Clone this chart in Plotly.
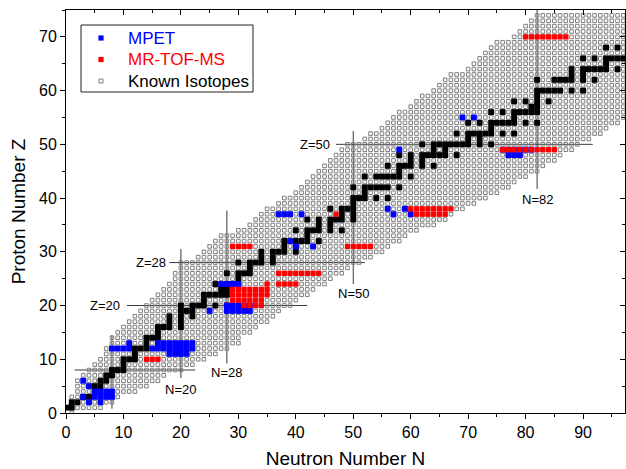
import plotly.graph_objects as go

# ---------------- data ----------------
# Known isotopes: for each proton number Z, lightest and heaviest known neutron number N
Z_ROWS = list(range(0, 75))
N_MIN = [1, 0, 1, 1, 2, 2, 2, 3, 4, 5,
         6, 7, 7, 8, 8, 9, 10, 11, 12, 13,
         14, 15, 16, 17, 18, 19, 19, 20, 20, 23,
         24, 25, 26, 27, 30, 32, 33, 34, 35, 37,
         38, 40, 41, 42, 43, 44, 45, 46, 47, 48,
         49, 52, 53, 55, 56, 57, 58, 60, 61, 62,
         64, 65, 66, 67, 70, 71, 72, 73, 74, 75,
         78, 79, 80, 81, 82]
N_MAX = [1, 6, 8, 9, 12, 14, 16, 17, 20, 22,
         24, 26, 28, 30, 30, 32, 33, 35, 36, 37,
         39, 40, 42, 43, 45, 46, 48, 49, 51, 53,
         55, 56, 58, 59, 61, 64, 66, 67, 69, 71,
         73, 75, 77, 78, 80, 82, 83, 85, 86, 88,
         89, 91, 93, 94, 96, 98, 99, 100, 101, 102,
         103, 104, 105, 106, 107, 108, 109, 110, 111, 112,
         113, 114, 116, 117, 118]

# Stable isotopes (Z, list of N)
STABLE = [
    (1, [0, 1]), (2, [1, 2]), (3, [3, 4]), (4, [5]), (5, [5, 6]), (6, [6, 7]),
    (7, [7, 8]), (8, [8, 9, 10]), (9, [10]), (10, [10, 11, 12]), (11, [12]),
    (12, [12, 13, 14]), (13, [14]), (14, [14, 15, 16]), (15, [16]),
    (16, [16, 17, 18, 20]), (17, [18, 20]), (18, [18, 20, 22]), (19, [20, 21, 22]),
    (20, [20, 22, 23, 24, 26, 28]), (21, [24]), (22, [24, 25, 26, 27, 28]),
    (23, [27, 28]), (24, [26, 28, 29, 30]), (25, [30]), (26, [28, 30, 31, 32]),
    (27, [32]), (28, [30, 32, 33, 34, 36]), (29, [34, 36]), (30, [34, 36, 37, 38, 40]),
    (31, [38, 40]), (32, [38, 40, 41, 42, 44]), (33, [42]), (34, [40, 42, 43, 44, 46, 48]),
    (35, [44, 46]), (36, [42, 44, 46, 47, 48, 50]), (37, [48, 50]), (38, [46, 48, 49, 50]),
    (39, [50]), (40, [50, 51, 52, 54, 56]), (41, [52]), (42, [50, 52, 53, 54, 55, 56, 58]),
    (44, [52, 54, 55, 56, 57, 58, 60]), (45, [58]), (46, [56, 58, 59, 60, 62, 64]),
    (47, [60, 62]), (48, [58, 60, 62, 63, 64, 65, 66, 68]), (49, [64, 66]),
    (50, [62, 64, 65, 66, 67, 68, 69, 70, 72, 74]), (51, [70, 72]),
    (52, [68, 70, 71, 72, 73, 74, 76, 78]), (53, [74]),
    (54, [70, 72, 74, 75, 76, 77, 78, 80, 82]), (55, [78]),
    (56, [74, 76, 78, 79, 80, 81, 82]), (57, [81, 82]), (58, [78, 80, 82, 84]),
    (59, [82]), (60, [82, 83, 84, 85, 86, 88, 90]), (62, [82, 85, 86, 87, 88, 90, 92]),
    (63, [88, 90]), (64, [88, 90, 91, 92, 93, 94, 96]), (65, [94]),
    (66, [90, 92, 94, 95, 96, 97, 98]), (67, [98]), (68, [94, 96, 98, 99, 100, 102]),
    (69, [100]), (70, [98, 100, 101, 102, 103, 104, 106]),
]

# MPET measurements (Z, list of N)
MPET = [
    (2, [4, 6]), (3, [3, 5, 6, 7, 8]), (4, [5, 6, 7, 8]), (5, [4]), (6, [3]),
    (11, [18, 19, 20, 21]), (12, [8, 9, 10, 11, 15, 16, 17, 18, 19, 20, 21, 22]),
    (13, [11, 16, 17, 18, 19, 20, 21, 22]),
    (19, [25, 28, 29, 30, 31, 32]), (20, [28, 29, 30, 31, 32]), (24, [27, 28, 29, 30]),
    (31, [40, 43]), (32, [39]), (37, [37, 38, 39, 41, 57, 60]), (38, [56, 59]),
    (48, [77, 78, 79]), (49, [58, 76, 77, 78, 79, 80, 81]), (55, [69, 71]),
]

# MR-TOF-MS measurements (Z, list of N)
MRTOF = [
    (10, [14, 15, 16]), (20, [31, 32, 33, 34]), (21, [29, 30, 31, 32, 33, 34]),
    (22, [29, 30, 31, 32, 33, 34, 35]), (23, [29, 30, 31, 32, 33, 34, 35]), (24, [35, 37, 38, 39, 40]),
    (26, [37, 38, 39, 40, 41, 42, 43, 44]), (31, [29, 30, 31, 32, 49, 50, 51, 52, 53]),
    (37, [47, 61, 62, 63, 64, 65, 66]), (38, [60, 61, 62, 63, 64, 65, 66, 67]),
    (49, [76, 77, 78, 79, 80, 81, 82, 83, 84, 85]), (70, [80, 81, 82, 83, 84, 85, 86, 87]),
]

# Magic-number guide lines: (value, start, end)
Z_LINES = [(8, 1.5, 22.5), (20, 10.6, 42.0), (28, 18.0, 52.0), (50, 47.0, 91.7)]
N_LINES = [(8, 0.8, 14.5), (20, 6.5, 30.5), (28, 9.2, 37.7), (50, 24.0, 52.5), (82, 41.7, 75.0)]
# Labels: (text, N, Z, anchor)
LABELS = [("Z=20", 10.0, 20.0, "right"), ("Z=28", 18.0, 28.0, "right"), ("Z=50", 46.5, 50.0, "right"),
          ("N=20", 20.0, 4.3, "center"), ("N=28", 28.0, 7.6, "center"),
          ("N=50", 50.0, 22.3, "center"), ("N=82", 82.0, 39.7, "center")]

# Legend entries: (label, text colour, marker colour, hollow)
LEGEND = [("MPET", "#0000ff", "#0000ff", False),
          ("MR-TOF-MS", "#ff0000", "#ff0000", False),
          ("Known Isotopes", "#000000", "#7f7f7f", True)]

X_RANGE = [0, 97.3]
Y_RANGE = [0, 75]

FONT = "Liberation Sans, Arial, sans-serif"


def expand(pairs):
    xs, ys = [], []
    for z, ns in pairs:
        for n in ns:
            xs.append(n)
            ys.append(z)
    return xs, ys


gx, gy = [], []
for z, lo, hi in zip(Z_ROWS, N_MIN, N_MAX):
    for n in range(lo, hi + 1):
        gx.append(n)
        gy.append(z)

sx, sy = expand(STABLE)
bx, by = expand(MPET)
rx, ry = expand(MRTOF)

fig = go.Figure()
fig.add_trace(go.Scatter(x=gx, y=gy, mode="markers", name="Known Isotopes", showlegend=False,
                         marker=dict(symbol="square-open", size=3.6, color="#7f7f7f",
                                     line=dict(width=1, color="#7f7f7f"))))
fig.add_trace(go.Scatter(x=sx, y=sy, mode="markers", showlegend=False, name="Stable",
                         marker=dict(symbol="square", size=5.9, color="black", line=dict(width=0))))
fig.add_trace(go.Scatter(x=bx, y=by, mode="markers", name="MPET", showlegend=False,
                         marker=dict(symbol="square", size=5.9, color="#0000ff", line=dict(width=0))))
fig.add_trace(go.Scatter(x=rx, y=ry, mode="markers", name="MR-TOF-MS", showlegend=False,
                         marker=dict(symbol="square", size=5.3, color="#ff0000", line=dict(width=0))))

shapes = []
for z, a, b in Z_LINES:
    shapes.append(dict(type="line", x0=a, x1=b, y0=z, y1=z, xref="x", yref="y",
                       line=dict(color="#3a3a3a", width=1), layer="below"))
for n, a, b in N_LINES:
    shapes.append(dict(type="line", x0=n, x1=n, y0=a, y1=b, xref="x", yref="y",
                       line=dict(color="#3a3a3a", width=1), layer="below"))

annotations = []
for text, n, z, anc in LABELS:
    annotations.append(dict(text=text, x=n, y=z, xref="x", yref="y", showarrow=False,
                            xanchor=anc, yanchor="middle",
                            font=dict(size=13, color="black", family=FONT),
                            xshift=-1 if anc == "right" else 0))

# ---- legend box (drawn manually for exact spacing) ----
PLOT_L, PLOT_T, PLOT_W, PLOT_H = 66, 10, 559, 403


def px_to_paper(px, py):
    return (px - PLOT_L) / PLOT_W, 1 - (py - PLOT_T) / PLOT_H


bx0, by0 = px_to_paper(81, 25)
bx1, by1 = px_to_paper(253, 92)
shapes.append(dict(type="rect", xref="paper", yref="paper", x0=bx0, x1=bx1, y0=by1, y1=by0,
                   fillcolor="white", line=dict(color="#222222", width=1), layer="above"))
for i, (label, tcol, mcol, hollow) in enumerate(LEGEND):
    cy = 38 + i * 21.5
    mx, my = px_to_paper(101, cy)
    half = 2 if hollow else 2.6
    shapes.append(dict(type="rect", xref="paper", yref="paper", xsizemode="pixel", ysizemode="pixel",
                       xanchor=mx, yanchor=my, x0=-half, x1=half, y0=-half, y1=half,
                       fillcolor="white" if hollow else mcol,
                       line=dict(color=mcol, width=1 if hollow else 0), layer="above"))
    tx, ty = px_to_paper(126, cy)
    annotations.append(dict(text=label, x=tx, y=ty, xref="paper", yref="paper", showarrow=False,
                            xanchor="left", yanchor="middle",
                            font=dict(size=17, color=tcol, family=FONT)))

axis_font = dict(family=FONT, size=16, color="black")
fig.update_layout(
    width=626, height=469,
    margin=dict(l=66, r=1, t=10, b=56),
    paper_bgcolor="white", plot_bgcolor="white",
    shapes=shapes, annotations=annotations,
    font=dict(family=FONT, color="black"),
    showlegend=False,
    xaxis=dict(range=X_RANGE, dtick=10, tick0=0, ticks="outside", ticklen=5, tickwidth=1,
               tickcolor="black", showline=True, linecolor="black", linewidth=1, mirror=True,
               showgrid=False, zeroline=False, tickfont=axis_font,
               minor=dict(dtick=5, tick0=0, ticks="outside", ticklen=3, tickcolor="black"),
               title=dict(text="Neutron Number N", font=dict(size=19, family=FONT), standoff=12)),
    yaxis=dict(range=Y_RANGE, dtick=10, tick0=0, ticks="outside", ticklen=5, tickwidth=1,
               tickcolor="black", showline=True, linecolor="black", linewidth=1, mirror=True,
               showgrid=False, zeroline=False, tickfont=axis_font,
               minor=dict(dtick=5, tick0=0, ticks="outside", ticklen=3, tickcolor="black"),
               title=dict(text="Proton Number Z", font=dict(size=19, family=FONT), standoff=8)),
    xaxis2=dict(range=X_RANGE, overlaying="x", side="top", dtick=10, tick0=0, ticks="inside",
                ticklen=5, tickcolor="black", showticklabels=False, showgrid=False, zeroline=False,
                minor=dict(dtick=5, tick0=0, ticks="inside", ticklen=3, tickcolor="black")),
    yaxis2=dict(range=Y_RANGE, overlaying="y", side="right", dtick=10, tick0=0, ticks="inside",
                ticklen=5, tickcolor="black", showticklabels=False, showgrid=False, zeroline=False,
                minor=dict(dtick=5, tick0=0, ticks="inside", ticklen=3, tickcolor="black")),
)
# invisible trace to activate the mirrored tick axes
fig.add_trace(go.Scatter(x=[None], y=[None], xaxis="x2", yaxis="y2", showlegend=False, hoverinfo="skip"))

fig.write_html("out.html")
